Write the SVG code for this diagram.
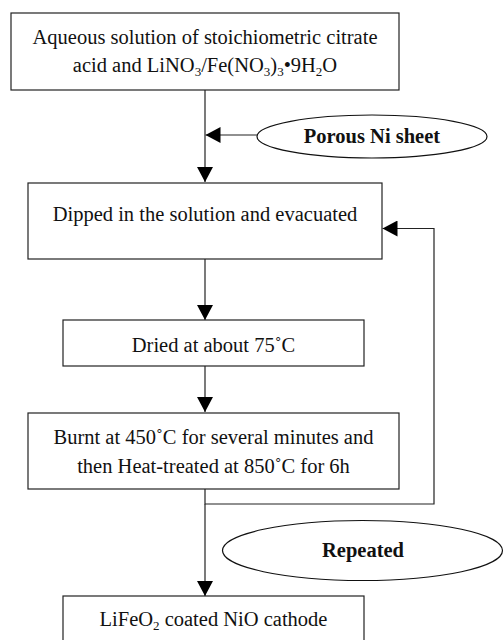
<svg xmlns="http://www.w3.org/2000/svg" width="504" height="640" viewBox="0 0 504 640">
<defs>
<style>
.box{fill:#fff;stroke:#222;stroke-width:1.2}
.ell{fill:#fff;stroke:#111;stroke-width:1.2}
.t{font-family:"Liberation Serif","Times New Roman",serif;font-size:20.5px;fill:#111;text-anchor:middle}
.b{font-weight:bold}
.ln{fill:none;stroke:#222;stroke-width:1.2}
.sub{font-size:13px}
</style>
<marker id="ah" viewBox="0 0 15 16" refX="15" refY="8" markerWidth="15" markerHeight="16" markerUnits="userSpaceOnUse" orient="auto">
<path d="M0,0 L15,8 L0,16 Z" fill="#000"/>
</marker>
</defs>
<rect width="504" height="640" fill="#fff"/>
<g id="connectors">
<line class="ln" x1="205" y1="90" x2="205" y2="182" marker-end="url(#ah)"/>
<line class="ln" x1="257" y1="135" x2="205.5" y2="135" marker-end="url(#ah)"/>
<line class="ln" x1="205" y1="259" x2="205" y2="320" marker-end="url(#ah)"/>
<line class="ln" x1="205" y1="366" x2="205" y2="412" marker-end="url(#ah)"/>
<polyline class="ln" points="205,489 205,504 434,504 434,228.5 382.5,228.5" marker-end="url(#ah)"/>
<line class="ln" x1="205" y1="504" x2="205" y2="596" marker-end="url(#ah)"/>
</g>
<g id="n1">
<rect class="box" x="11" y="13" width="388" height="77"/>
<text class="t" x="205" y="43.5">Aqueous solution of stoichiometric citrate</text>
<text class="t" x="205" y="71.5">acid and LiNO<tspan class="sub" dy="4">3</tspan><tspan dy="-4">/Fe(NO</tspan><tspan class="sub" dy="4">3</tspan><tspan dy="-4">)</tspan><tspan class="sub" dy="4">3</tspan><tspan dy="-4">•9H</tspan><tspan class="sub" dy="4">2</tspan><tspan dy="-4">O</tspan></text>
</g>
<g id="n_porous">
<ellipse class="ell" cx="372" cy="136.5" rx="115" ry="21.5"/>
<text class="t b" x="372" y="143">Porous Ni sheet</text>
</g>
<g id="n2">
<rect class="box" x="28" y="183" width="354" height="76"/>
<text class="t" x="205" y="221">Dipped in the solution and evacuated</text>
</g>
<g id="n3">
<rect class="box" x="63" y="320" width="301" height="46"/>
<text class="t" x="213.5" y="352">Dried at about 75˚C</text>
</g>
<g id="n4">
<rect class="box" x="28" y="413" width="371" height="76"/>
<text class="t" x="213.5" y="443.5">Burnt at 450˚C for several minutes and</text>
<text class="t" x="213.5" y="473">then Heat-treated at 850˚C for 6h</text>
</g>
<g id="n_repeated">
<ellipse class="ell" cx="362.5" cy="550.5" rx="140" ry="30"/>
<text class="t b" x="363" y="557">Repeated</text>
</g>
<g id="n5">
<rect class="box" x="63" y="596" width="301" height="60"/>
<text class="t" x="213.5" y="625.5">LiFeO<tspan class="sub" dy="4">2</tspan><tspan dy="-4"> coated NiO cathode</tspan></text>
</g>
</svg>
